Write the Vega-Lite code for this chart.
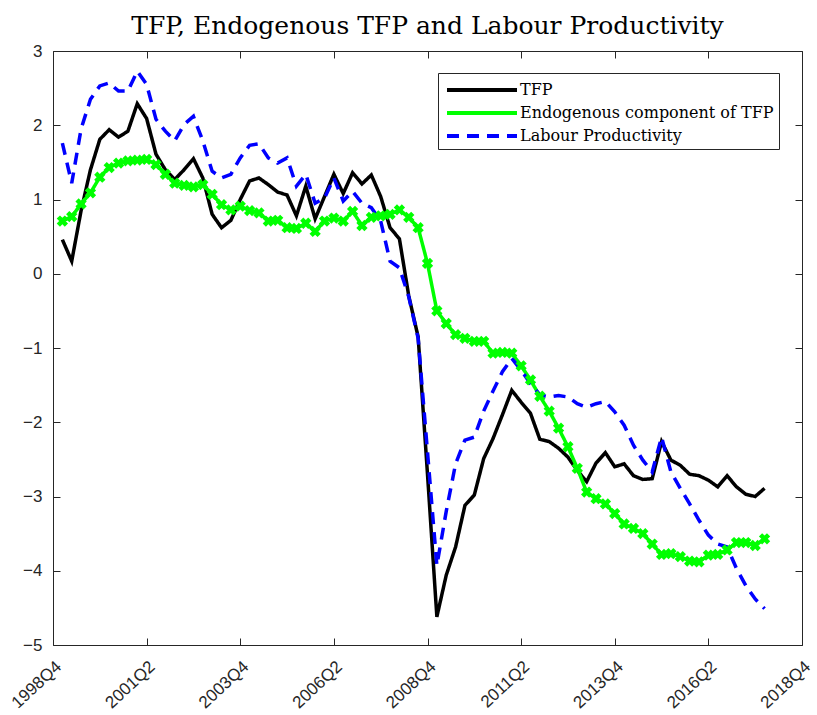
{
  "$schema": "https://vega.github.io/schema/vega-lite/v6.json",
  "width": 749,
  "height": 594,
  "autosize": {"type": "none"},
  "padding": {"left": 53, "top": 51, "right": 15, "bottom": 70},
  "background": "white",
  "title": {"text": "TFP, Endogenous TFP and Labour Productivity", "font": "DejaVu Serif", "fontSize": 25, "fontWeight": "normal", "color": "#000000", "offset": 3},
  "config": {
    "view": {"stroke": "#262626", "strokeWidth": 1},
    "axis": {"grid": false, "domain": false, "tickColor": "#262626", "labelColor": "#262626", "labelFont": "Liberation Sans", "labelFontSize": 17, "tickSize": -7, "tickWidth": 1}
  },
  "data": {"values": [
    {"t":1,"series":"TFP","value":0.46},{"t":2,"series":"TFP","value":0.17},{"t":3,"series":"TFP","value":0.85},{"t":4,"series":"TFP","value":1.40},{"t":5,"series":"TFP","value":1.81},{"t":6,"series":"TFP","value":1.94},{"t":7,"series":"TFP","value":1.84},{"t":8,"series":"TFP","value":1.92},{"t":9,"series":"TFP","value":2.29},{"t":10,"series":"TFP","value":2.09},
    {"t":11,"series":"TFP","value":1.61},{"t":12,"series":"TFP","value":1.40},{"t":13,"series":"TFP","value":1.27},{"t":14,"series":"TFP","value":1.40},{"t":15,"series":"TFP","value":1.55},{"t":16,"series":"TFP","value":1.29},{"t":17,"series":"TFP","value":0.80},{"t":18,"series":"TFP","value":0.62},{"t":19,"series":"TFP","value":0.72},{"t":20,"series":"TFP","value":1.00},
    {"t":21,"series":"TFP","value":1.25},{"t":22,"series":"TFP","value":1.29},{"t":23,"series":"TFP","value":1.20},{"t":24,"series":"TFP","value":1.10},{"t":25,"series":"TFP","value":1.06},{"t":26,"series":"TFP","value":0.78},{"t":27,"series":"TFP","value":1.18},{"t":28,"series":"TFP","value":0.74},{"t":29,"series":"TFP","value":1.04},{"t":30,"series":"TFP","value":1.34},
    {"t":31,"series":"TFP","value":1.08},{"t":32,"series":"TFP","value":1.36},{"t":33,"series":"TFP","value":1.21},{"t":34,"series":"TFP","value":1.33},{"t":35,"series":"TFP","value":1.04},{"t":36,"series":"TFP","value":0.62},{"t":37,"series":"TFP","value":0.47},{"t":38,"series":"TFP","value":-0.30},{"t":39,"series":"TFP","value":-0.85},{"t":40,"series":"TFP","value":-2.70},
    {"t":41,"series":"TFP","value":-4.62},{"t":42,"series":"TFP","value":-4.06},{"t":43,"series":"TFP","value":-3.68},{"t":44,"series":"TFP","value":-3.12},{"t":45,"series":"TFP","value":-2.98},{"t":46,"series":"TFP","value":-2.49},{"t":47,"series":"TFP","value":-2.22},{"t":48,"series":"TFP","value":-1.90},{"t":49,"series":"TFP","value":-1.57},{"t":50,"series":"TFP","value":-1.73},
    {"t":51,"series":"TFP","value":-1.88},{"t":52,"series":"TFP","value":-2.23},{"t":53,"series":"TFP","value":-2.26},{"t":54,"series":"TFP","value":-2.35},{"t":55,"series":"TFP","value":-2.47},{"t":56,"series":"TFP","value":-2.65},{"t":57,"series":"TFP","value":-2.80},{"t":58,"series":"TFP","value":-2.55},{"t":59,"series":"TFP","value":-2.41},{"t":60,"series":"TFP","value":-2.60},
    {"t":61,"series":"TFP","value":-2.56},{"t":62,"series":"TFP","value":-2.72},{"t":63,"series":"TFP","value":-2.77},{"t":64,"series":"TFP","value":-2.76},{"t":65,"series":"TFP","value":-2.26},{"t":66,"series":"TFP","value":-2.51},{"t":67,"series":"TFP","value":-2.58},{"t":68,"series":"TFP","value":-2.70},{"t":69,"series":"TFP","value":-2.72},{"t":70,"series":"TFP","value":-2.78},
    {"t":71,"series":"TFP","value":-2.87},{"t":72,"series":"TFP","value":-2.72},{"t":73,"series":"TFP","value":-2.87},{"t":74,"series":"TFP","value":-2.97},{"t":75,"series":"TFP","value":-3.00},{"t":76,"series":"TFP","value":-2.89},

    {"t":1,"series":"Endogenous component of TFP","value":0.71},{"t":2,"series":"Endogenous component of TFP","value":0.77},{"t":3,"series":"Endogenous component of TFP","value":0.94},{"t":4,"series":"Endogenous component of TFP","value":1.09},{"t":5,"series":"Endogenous component of TFP","value":1.30},{"t":6,"series":"Endogenous component of TFP","value":1.43},{"t":7,"series":"Endogenous component of TFP","value":1.49},{"t":8,"series":"Endogenous component of TFP","value":1.52},{"t":9,"series":"Endogenous component of TFP","value":1.53},{"t":10,"series":"Endogenous component of TFP","value":1.54},
    {"t":11,"series":"Endogenous component of TFP","value":1.47},{"t":12,"series":"Endogenous component of TFP","value":1.34},{"t":13,"series":"Endogenous component of TFP","value":1.22},{"t":14,"series":"Endogenous component of TFP","value":1.19},{"t":15,"series":"Endogenous component of TFP","value":1.17},{"t":16,"series":"Endogenous component of TFP","value":1.20},{"t":17,"series":"Endogenous component of TFP","value":1.07},{"t":18,"series":"Endogenous component of TFP","value":0.93},{"t":19,"series":"Endogenous component of TFP","value":0.86},{"t":20,"series":"Endogenous component of TFP","value":0.91},
    {"t":21,"series":"Endogenous component of TFP","value":0.85},{"t":22,"series":"Endogenous component of TFP","value":0.82},{"t":23,"series":"Endogenous component of TFP","value":0.71},{"t":24,"series":"Endogenous component of TFP","value":0.72},{"t":25,"series":"Endogenous component of TFP","value":0.62},{"t":26,"series":"Endogenous component of TFP","value":0.61},{"t":27,"series":"Endogenous component of TFP","value":0.68},{"t":28,"series":"Endogenous component of TFP","value":0.57},{"t":29,"series":"Endogenous component of TFP","value":0.71},{"t":30,"series":"Endogenous component of TFP","value":0.75},
    {"t":31,"series":"Endogenous component of TFP","value":0.71},{"t":32,"series":"Endogenous component of TFP","value":0.84},{"t":33,"series":"Endogenous component of TFP","value":0.65},{"t":34,"series":"Endogenous component of TFP","value":0.76},{"t":35,"series":"Endogenous component of TFP","value":0.78},{"t":36,"series":"Endogenous component of TFP","value":0.80},{"t":37,"series":"Endogenous component of TFP","value":0.86},{"t":38,"series":"Endogenous component of TFP","value":0.76},{"t":39,"series":"Endogenous component of TFP","value":0.62},{"t":40,"series":"Endogenous component of TFP","value":0.14},
    {"t":41,"series":"Endogenous component of TFP","value":-0.50},{"t":42,"series":"Endogenous component of TFP","value":-0.67},{"t":43,"series":"Endogenous component of TFP","value":-0.82},{"t":44,"series":"Endogenous component of TFP","value":-0.87},{"t":45,"series":"Endogenous component of TFP","value":-0.91},{"t":46,"series":"Endogenous component of TFP","value":-0.91},{"t":47,"series":"Endogenous component of TFP","value":-1.07},{"t":48,"series":"Endogenous component of TFP","value":-1.06},{"t":49,"series":"Endogenous component of TFP","value":-1.07},{"t":50,"series":"Endogenous component of TFP","value":-1.24},
    {"t":51,"series":"Endogenous component of TFP","value":-1.43},{"t":52,"series":"Endogenous component of TFP","value":-1.65},{"t":53,"series":"Endogenous component of TFP","value":-1.85},{"t":54,"series":"Endogenous component of TFP","value":-2.08},{"t":55,"series":"Endogenous component of TFP","value":-2.33},{"t":56,"series":"Endogenous component of TFP","value":-2.62},{"t":57,"series":"Endogenous component of TFP","value":-2.94},{"t":58,"series":"Endogenous component of TFP","value":-3.03},{"t":59,"series":"Endogenous component of TFP","value":-3.10},{"t":60,"series":"Endogenous component of TFP","value":-3.23},
    {"t":61,"series":"Endogenous component of TFP","value":-3.37},{"t":62,"series":"Endogenous component of TFP","value":-3.43},{"t":63,"series":"Endogenous component of TFP","value":-3.50},{"t":64,"series":"Endogenous component of TFP","value":-3.64},{"t":65,"series":"Endogenous component of TFP","value":-3.78},{"t":66,"series":"Endogenous component of TFP","value":-3.77},{"t":67,"series":"Endogenous component of TFP","value":-3.81},{"t":68,"series":"Endogenous component of TFP","value":-3.87},{"t":69,"series":"Endogenous component of TFP","value":-3.88},{"t":70,"series":"Endogenous component of TFP","value":-3.79},
    {"t":71,"series":"Endogenous component of TFP","value":-3.78},{"t":72,"series":"Endogenous component of TFP","value":-3.72},{"t":73,"series":"Endogenous component of TFP","value":-3.62},{"t":74,"series":"Endogenous component of TFP","value":-3.62},{"t":75,"series":"Endogenous component of TFP","value":-3.66},{"t":76,"series":"Endogenous component of TFP","value":-3.57},

    {"t":1,"series":"Labour Productivity","value":1.76},{"t":2,"series":"Labour Productivity","value":1.22},{"t":3,"series":"Labour Productivity","value":1.95},{"t":4,"series":"Labour Productivity","value":2.35},{"t":5,"series":"Labour Productivity","value":2.53},{"t":6,"series":"Labour Productivity","value":2.57},{"t":7,"series":"Labour Productivity","value":2.46},{"t":8,"series":"Labour Productivity","value":2.46},{"t":9,"series":"Labour Productivity","value":2.73},{"t":10,"series":"Labour Productivity","value":2.55},
    {"t":11,"series":"Labour Productivity","value":2.08},{"t":12,"series":"Labour Productivity","value":1.92},{"t":13,"series":"Labour Productivity","value":1.79},{"t":14,"series":"Labour Productivity","value":2.01},{"t":15,"series":"Labour Productivity","value":2.12},{"t":16,"series":"Labour Productivity","value":1.79},{"t":17,"series":"Labour Productivity","value":1.38},{"t":18,"series":"Labour Productivity","value":1.29},{"t":19,"series":"Labour Productivity","value":1.34},{"t":20,"series":"Labour Productivity","value":1.56},
    {"t":21,"series":"Labour Productivity","value":1.73},{"t":22,"series":"Labour Productivity","value":1.75},{"t":23,"series":"Labour Productivity","value":1.56},{"t":24,"series":"Labour Productivity","value":1.49},{"t":25,"series":"Labour Productivity","value":1.56},{"t":26,"series":"Labour Productivity","value":1.18},{"t":27,"series":"Labour Productivity","value":1.34},{"t":28,"series":"Labour Productivity","value":0.95},{"t":29,"series":"Labour Productivity","value":1.02},{"t":30,"series":"Labour Productivity","value":1.29},
    {"t":31,"series":"Labour Productivity","value":0.98},{"t":32,"series":"Labour Productivity","value":1.11},{"t":33,"series":"Labour Productivity","value":0.95},{"t":34,"series":"Labour Productivity","value":0.89},{"t":35,"series":"Labour Productivity","value":0.71},{"t":36,"series":"Labour Productivity","value":0.17},{"t":37,"series":"Labour Productivity","value":0.08},{"t":38,"series":"Labour Productivity","value":-0.31},{"t":39,"series":"Labour Productivity","value":-0.87},{"t":40,"series":"Labour Productivity","value":-2.40},
    {"t":41,"series":"Labour Productivity","value":-3.93},{"t":42,"series":"Labour Productivity","value":-3.20},{"t":43,"series":"Labour Productivity","value":-2.56},{"t":44,"series":"Labour Productivity","value":-2.24},{"t":45,"series":"Labour Productivity","value":-2.20},{"t":46,"series":"Labour Productivity","value":-1.85},{"t":47,"series":"Labour Productivity","value":-1.58},{"t":48,"series":"Labour Productivity","value":-1.32},{"t":49,"series":"Labour Productivity","value":-1.14},{"t":50,"series":"Labour Productivity","value":-1.30},
    {"t":51,"series":"Labour Productivity","value":-1.48},{"t":52,"series":"Labour Productivity","value":-1.63},{"t":53,"series":"Labour Productivity","value":-1.66},{"t":54,"series":"Labour Productivity","value":-1.64},{"t":55,"series":"Labour Productivity","value":-1.66},{"t":56,"series":"Labour Productivity","value":-1.75},{"t":57,"series":"Labour Productivity","value":-1.80},{"t":58,"series":"Labour Productivity","value":-1.75},{"t":59,"series":"Labour Productivity","value":-1.72},{"t":60,"series":"Labour Productivity","value":-1.86},
    {"t":61,"series":"Labour Productivity","value":-2.04},{"t":62,"series":"Labour Productivity","value":-2.31},{"t":63,"series":"Labour Productivity","value":-2.51},{"t":64,"series":"Labour Productivity","value":-2.67},{"t":65,"series":"Labour Productivity","value":-2.20},{"t":66,"series":"Labour Productivity","value":-2.67},{"t":67,"series":"Labour Productivity","value":-2.89},{"t":68,"series":"Labour Productivity","value":-3.10},{"t":69,"series":"Labour Productivity","value":-3.32},{"t":70,"series":"Labour Productivity","value":-3.52},
    {"t":71,"series":"Labour Productivity","value":-3.64},{"t":72,"series":"Labour Productivity","value":-3.68},{"t":73,"series":"Labour Productivity","value":-3.97},{"t":74,"series":"Labour Productivity","value":-4.20},{"t":75,"series":"Labour Productivity","value":-4.38},{"t":76,"series":"Labour Productivity","value":-4.51}
  ]},
  "layer": [
    {
      "mark": {"type": "line", "strokeWidth": 3.5, "clip": true},
      "encoding": {
        "x": {"field": "t", "type": "quantitative", "scale": {"domain": [0, 80], "nice": false, "zero": false},
              "axis": {"title": null, "values": [0,10,20,30,40,50,60,70,80], "labelExpr": "floor((7995 + datum.value) / 4) + 'Q' + ((7995 + datum.value) % 4 + 1)", "labelAngle": -43, "labelPadding": 20}},
        "y": {"field": "value", "type": "quantitative", "scale": {"domain": [-5, 3], "nice": false, "zero": false},
              "axis": {"title": null, "values": [-5,-4,-3,-2,-1,0,1,2,3], "labelPadding": 18}},
        "color": {"field": "series", "type": "nominal",
                  "scale": {"domain": ["TFP", "Endogenous component of TFP", "Labour Productivity"], "range": ["#000000", "#00ff00", "#0000ff"]},
                  "legend": {"title": null, "orient": "none", "legendX": 385, "legendY": 22, "direction": "vertical",
                             "symbolType": "M-0.8,0H6.2", "symbolSize": 400, "symbolStrokeWidth": 4,
                             "labelFont": "DejaVu Serif", "labelFontSize": 16, "labelColor": "#000000", "labelOffset": 53,
                             "rowPadding": 3, "fillColor": "white", "strokeColor": "#262626", "padding": 5, "labelLimit": 400}},
        "strokeDash": {"field": "series", "type": "nominal",
                       "scale": {"domain": ["TFP", "Endogenous component of TFP", "Labour Productivity"], "range": [[1, 0], [1, 0], [12, 8]]},
                       "legend": {"title": null}}
      }
    },
    {
      "transform": [{"filter": "datum.series == 'Endogenous component of TFP'"}],
      "mark": {"type": "point", "shape": "cross", "angle": 45, "filled": true, "size": 130, "color": "#00ff00", "opacity": 1},
      "encoding": {
        "x": {"field": "t", "type": "quantitative", "axis": {"orient": "top", "labels": false, "title": null, "values": [0,10,20,30,40,50,60,70,80]}},
        "y": {"field": "value", "type": "quantitative", "axis": {"orient": "right", "labels": false, "title": null, "values": [-5,-4,-3,-2,-1,0,1,2,3]}}
      }
    }
  ],
  "resolve": {"axis": {"x": "independent", "y": "independent"}}
}
